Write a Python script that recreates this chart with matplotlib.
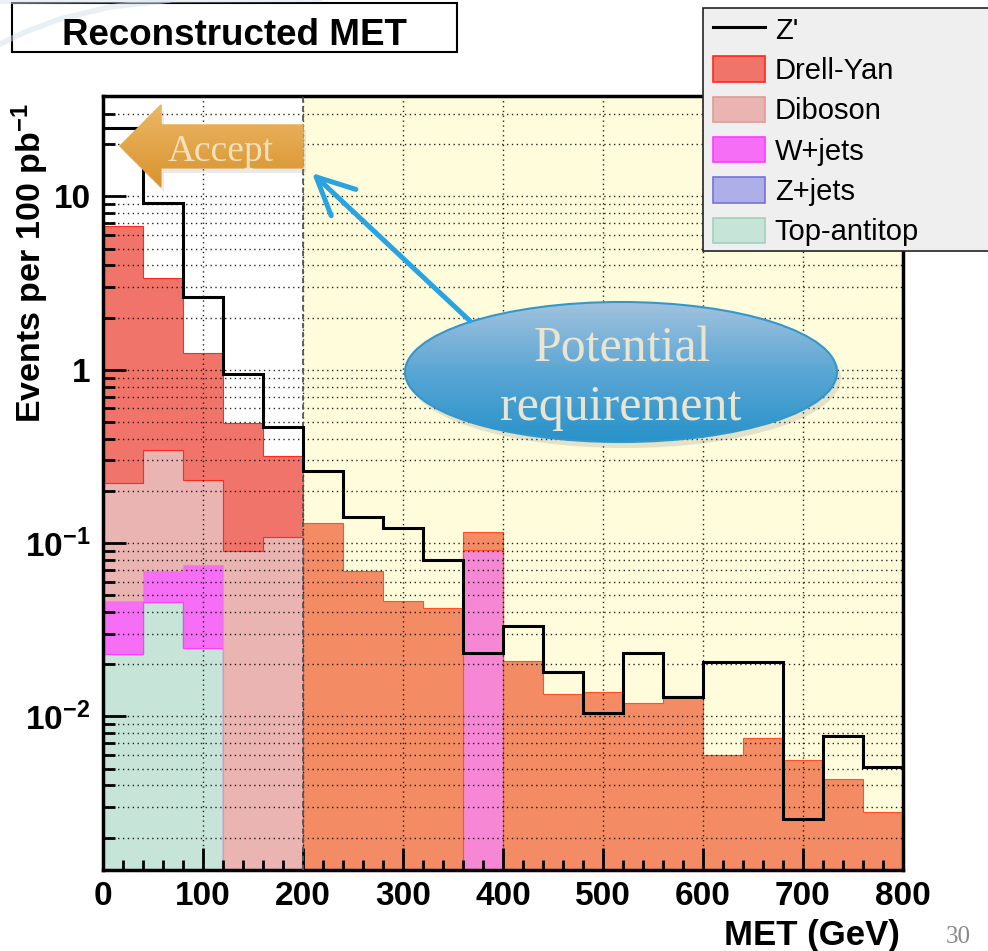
import numpy as np
import matplotlib.pyplot as plt
from matplotlib.patches import Rectangle, Polygon, Ellipse, Patch
from matplotlib.lines import Line2D
from matplotlib.colors import LinearSegmentedColormap
from matplotlib.ticker import MultipleLocator, LogLocator, NullFormatter

plt.rcParams['font.family'] = ['Liberation Sans', 'DejaVu Sans']
plt.rcParams['mathtext.fontset'] = 'custom'
plt.rcParams['mathtext.rm'] = 'Liberation Sans'
plt.rcParams['mathtext.bf'] = 'Liberation Sans:bold'
plt.rcParams['mathtext.default'] = 'bf'

# MET histograms, 40 GeV bins, events per 100 pb^-1
edges = np.arange(0, 801, 40)

ttbar = [0.0227, 0.0456, 0.0248, 0, 0, 0, 0, 0, 0, 0,
         0, 0, 0, 0, 0, 0, 0, 0, 0, 0]
zjets = [0] * 20
wjets = [0.0233, 0.0234, 0.0495, 0, 0, 0, 0, 0, 0, 0.0906,
         0, 0, 0, 0, 0, 0, 0, 0, 0, 0]
diboson = [0.176, 0.276, 0.158, 0.0895, 0.109, 0, 0, 0, 0, 0,
           0, 0, 0, 0, 0, 0, 0, 0, 0, 0]
drellyan = [6.56, 3.06, 1.01, 0.405, 0.207, 0.130, 0.069, 0.0465, 0.0422, 0.025,
            0.0207, 0.0133, 0.0137, 0.0118, 0.0130, 0.00588, 0.0074, 0.00547, 0.00427, 0.0027]
zprime = [25.0, 9.16, 2.64, 0.948, 0.467, 0.261, 0.141, 0.122, 0.080, 0.0232,
          0.0334, 0.018, 0.01045, 0.0232, 0.0130, 0.0205, 0.0205, 0.00257, 0.00773, 0.00514]

# stack order, bottom to top
layers = [
    ('Top-antitop', ttbar, '#c6e4d8', '#a2d0bd'),
    ('Z+jets', zjets, '#aeaee8', '#7474d4'),
    ('W+jets', wjets, '#f56ef5', '#ff3cff'),
    ('Diboson', diboson, '#e9b4b2', '#dc9c9a'),
    ('Drell-Yan', drellyan, '#f1746a', '#ff2a1a'),
]

W, H = 988, 951
fig = plt.figure(figsize=(W / 100, H / 100), dpi=100)
ax = fig.add_axes([103 / W, 1 - 870 / H, 800 / W, 774 / H])

bottom = np.full(len(edges) - 1, 1e-4)
for name, vals, face, edge in layers:
    top = bottom + np.asarray(vals, dtype=float)
    ax.stairs(top, edges, baseline=bottom, fill=True, facecolor=face,
              edgecolor=edge, lw=0.8, zorder=1)
    bottom = top

# yellow tint over the region above 200 GeV
ax.axvspan(200, 800, color='#fff050', alpha=0.2, lw=0, zorder=1.5)

ax.stairs(zprime, edges, baseline=None, color='k', lw=2.2, zorder=4)
ax.axvline(200, color='#555555', ls=(0, (3, 2)), lw=1.3, zorder=3)

ax.set_yscale('log')
ax.set_xlim(0, 800)
ax.set_ylim(1.3e-3, 38)

ax.xaxis.set_major_locator(MultipleLocator(100))
ax.xaxis.set_minor_locator(MultipleLocator(20))
ax.set_yticks([1e-2, 1e-1, 1, 10], labels=[r'$10^{-2}$', r'$10^{-1}$', '1', '10'])
ax.yaxis.set_minor_locator(LogLocator(base=10, subs=range(2, 10)))
ax.yaxis.set_minor_formatter(NullFormatter())

ax.set_axisbelow(False)
dots = dict(color='k', ls=(0, (1, 2.5)), lw=1.0, alpha=0.85)
ax.grid(True, which='major', axis='x', **dots)
ax.grid(True, which='both', axis='y', **dots)

ax.tick_params(which='both', direction='in', top=False, right=False, width=2)
ax.tick_params(which='major', axis='y', length=16.5, pad=9, labelsize=24)
ax.tick_params(which='minor', axis='y', length=8.5)
ax.tick_params(which='major', axis='x', length=16, pad=8, labelsize=24)
ax.tick_params(which='minor', axis='x', length=7)
for lab in ax.get_xticklabels() + ax.get_yticklabels():
    lab.set_fontweight('bold')
for sp in ax.spines.values():
    sp.set_linewidth(2.5)

# overlay in pixel coordinates for the annotations
ov = fig.add_axes([0, 0, 1, 1], zorder=5)
ov.axis('off')

# faint slide swoosh in the corner
ov.plot([0, 25, 60, 110, 170], [44, 32, 19, 7, 0], color='#d3e3ef', lw=4,
        alpha=0.5, solid_capstyle='round')
ov.plot([0, 120, 320], [2, 1, 0], color='#d6e4ef', lw=3, alpha=0.5)

# title box
ov.add_patch(Rectangle((12, 3), 445, 49, fc='white', ec='k', lw=1.5))
ov.text(234, 45, 'Reconstructed MET', ha='center', va='baseline',
        fontsize=26.5, fontweight='bold')

# axis titles
ov.text(30, 423, r'Events per 100 pb$^{-1}$', rotation=90, ha='center',
        va='bottom', fontsize=24.5, fontweight='bold')
ov.text(900, 945, 'MET (GeV)', ha='right', va='baseline', fontsize=25,
        fontweight='bold')
ov.text(958, 943, '30', ha='center', va='baseline', fontsize=18,
        family='Liberation Serif', color='#8a8a8a')

# legend
ov.add_patch(Rectangle((703, 8), 300, 243, fc='#efefef', ec='#222222', lw=1.2))
handles = [Line2D([], [], color='k', lw=2.2)]
labels = ["Z'"]
for name, vals, face, edge in reversed(layers):
    handles.append(Patch(facecolor=face, edgecolor=edge, lw=1.2))
    labels.append(name)
ov.legend(handles, labels, loc='upper left', bbox_to_anchor=(713, 16),
          bbox_transform=ov.transData, frameon=False, fontsize=21,
          handlelength=1.78, handleheight=0.96, handletextpad=0.34,
          labelspacing=0.40, borderpad=0, borderaxespad=0)

# "Accept" arrow
arrow_pts = [(120, 146), (161, 105), (161, 125), (303, 125), (303, 168),
             (161, 168), (161, 187)]
ov.add_patch(Polygon([(x + 3, y + 5) for x, y in arrow_pts], fc='#888888',
                     ec='none', alpha=0.18))
accept = Polygon(arrow_pts, fc='none', ec='#e8a848', lw=1)
ov.add_patch(accept)
orange = LinearSegmentedColormap.from_list('orange', ['#edb867', '#d8922c'])
img = ov.imshow(np.linspace(0, 1, 64).reshape(-1, 1), cmap=orange,
                extent=(118, 305, 189, 103), aspect='auto', zorder=2)
img.set_clip_path(accept)
ov.text(221, 161, 'Accept', ha='center', va='baseline', fontsize=27,
        family='Liberation Serif', color='#f6e8ca', alpha=0.9, zorder=3)

# "Potential requirement" bubble
ov.add_patch(Ellipse((625, 378), 432, 140, fc='#777777', ec='none', alpha=0.2))
bubble = Ellipse((621, 372), 432, 140, fc='none', ec='#3497cc', lw=1.5, zorder=3)
ov.add_patch(bubble)
blue = LinearSegmentedColormap.from_list('blue', ['#a0c2de', '#5aa6d4', '#2893ca'])
img2 = ov.imshow(np.linspace(0, 1, 64).reshape(-1, 1), cmap=blue,
                 extent=(405, 837, 442, 302), aspect='auto', zorder=2)
img2.set_clip_path(bubble)
ov.text(622, 361, 'Potential', ha='center', va='baseline', fontsize=36,
        family='Liberation Serif', color='#ebe4cf', zorder=4)
ov.text(621, 420, 'requirement', ha='center', va='baseline', fontsize=36,
        family='Liberation Serif', color='#ebe4cf', zorder=4)

ov.annotate('', xy=(312, 173), xytext=(470, 321),
            arrowprops=dict(arrowstyle='->,head_length=1.35,head_width=0.65',
                            color='#2aa4e0', lw=3.6, mutation_scale=20,
                            shrinkA=0, shrinkB=0))

ov.set_xlim(0, W)
ov.set_ylim(H, 0)

fig.savefig('out.png', dpi=100)
